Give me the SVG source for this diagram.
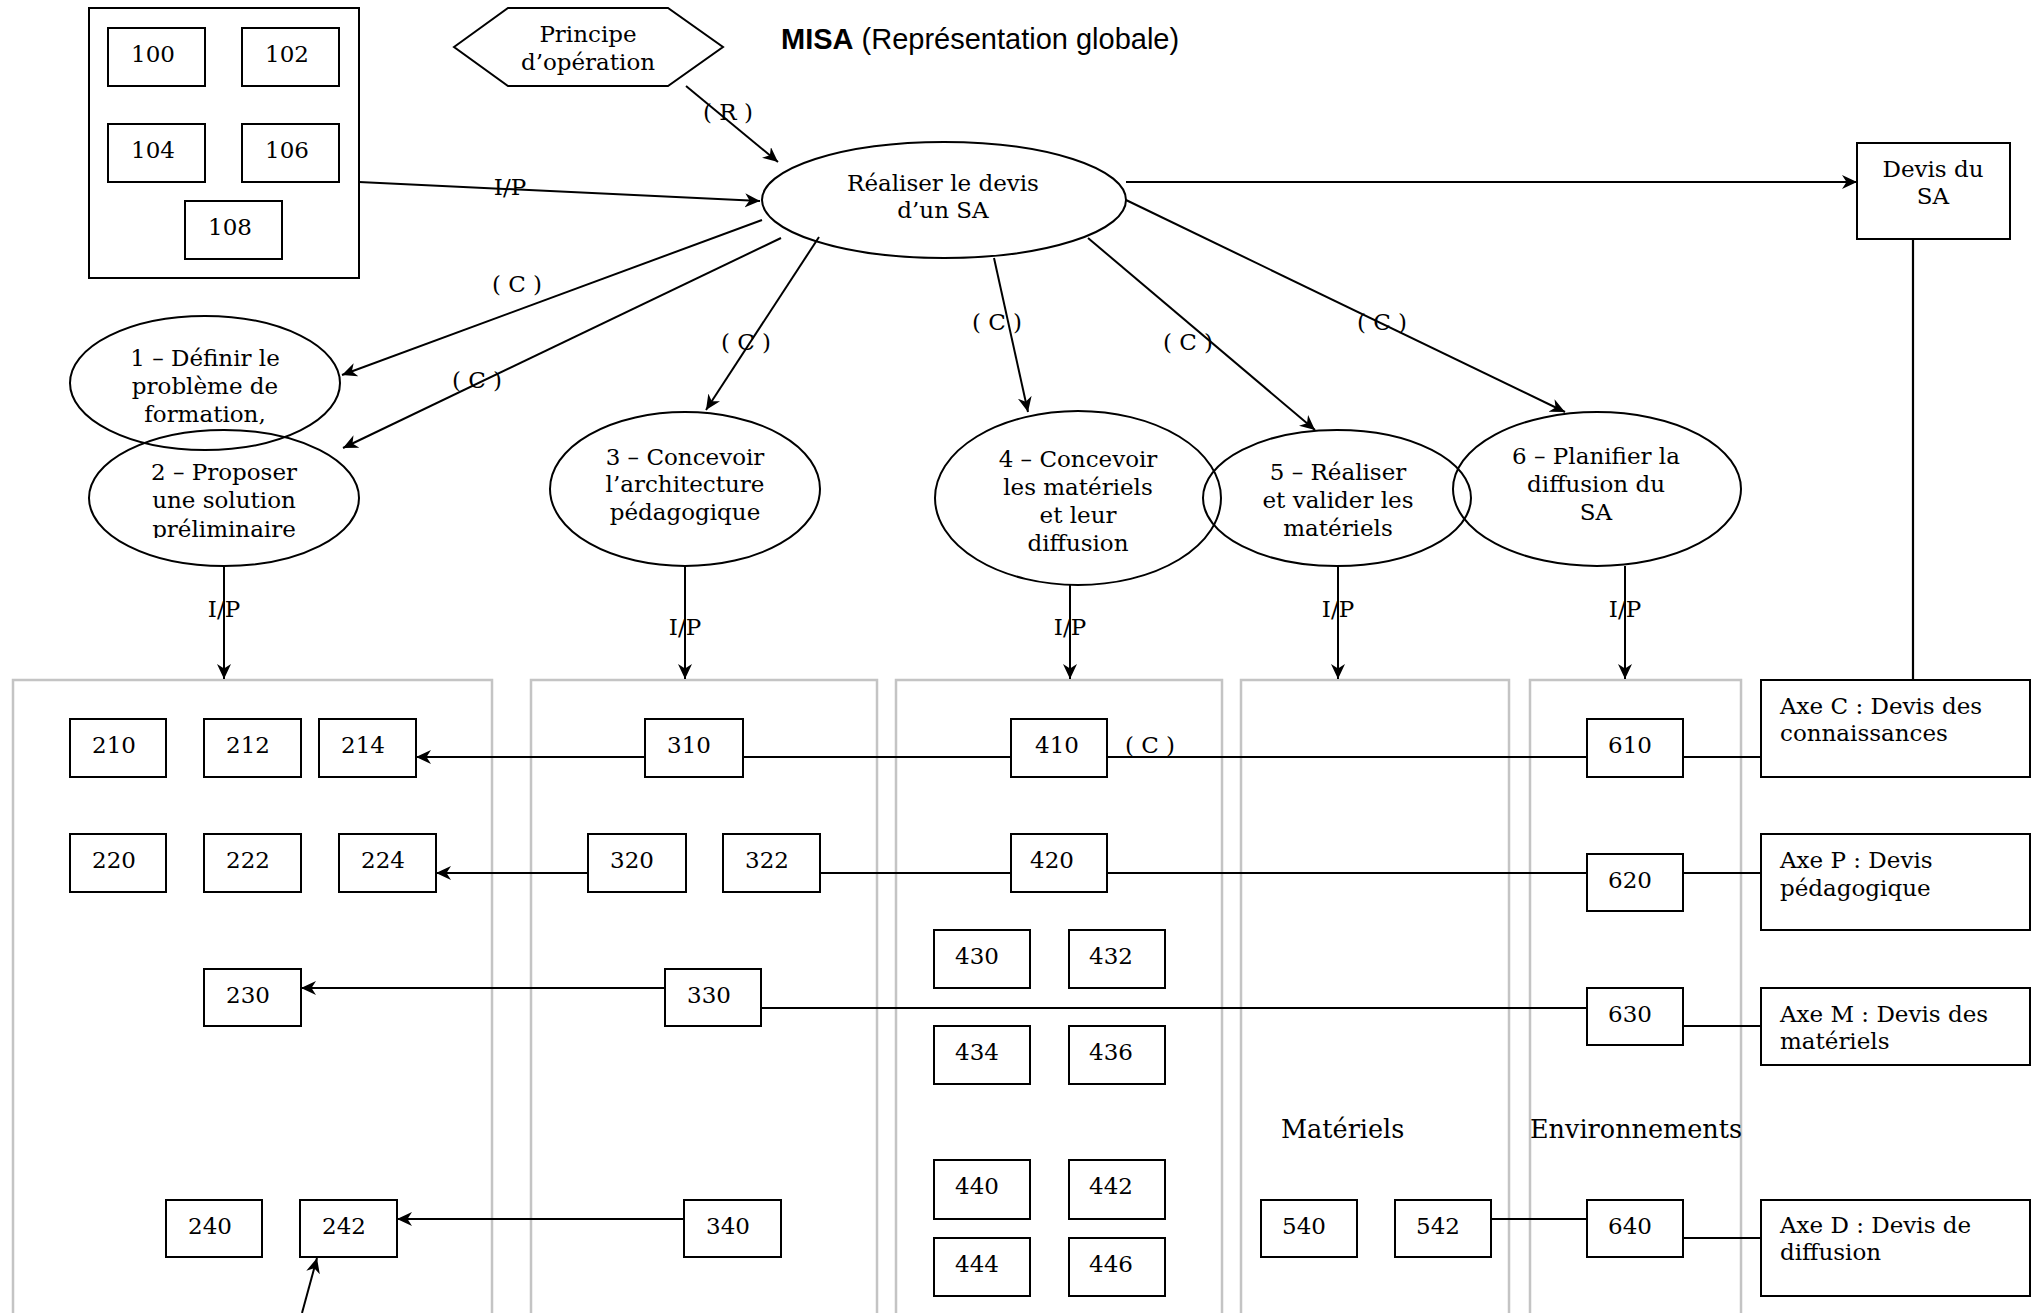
<svg xmlns="http://www.w3.org/2000/svg" width="2037" height="1313" viewBox="0 0 2037 1313">
  <style>
    .t { font-family: "DejaVu Serif", "Liberation Serif", serif; font-size: 23px; fill: #000; }
    .c { text-anchor: middle; }
    .big { font-size: 25.5px; }
    .box { fill: #fff; stroke: #000; stroke-width: 2; }
    .shape { fill: none; stroke: #000; stroke-width: 2; }
    .col { fill: none; stroke: #c4c4c4; stroke-width: 2.5; }
    .ln { fill: none; stroke: #000; stroke-width: 2.2; }
    .arr { fill: none; stroke: #000; stroke-width: 2; marker-end: url(#ah); }
    .title { font-family: "Liberation Sans", Arial, sans-serif; font-size: 29px; }
  </style>
  <defs>
    <marker id="ah" markerUnits="userSpaceOnUse" markerWidth="16" markerHeight="15" refX="15" refY="7" orient="auto">
      <path d="M0,0 L15,7 L0,14 L4.5,7 z" fill="#000"/>
    </marker>
    <clipPath id="clip2">
      <rect x="80" y="440" width="290" height="98"/>
    </clipPath>
  </defs>

  <rect width="2037" height="1313" fill="#fff"/>

  <!-- column frames -->
  <g id="columns">
    <rect class="col" x="13" y="680" width="479" height="650"/>
    <rect class="col" x="531" y="680" width="346" height="650"/>
    <rect class="col" x="896" y="680" width="326" height="650"/>
    <rect class="col" x="1241" y="680" width="268" height="650"/>
    <rect class="col" x="1530" y="680" width="211" height="650"/>
  </g>

  <!-- connectors -->
  <g id="connectors">
    <line class="arr" x1="359" y1="182" x2="760" y2="201"/>
    <line class="arr" x1="686" y1="86" x2="778" y2="162"/>
    <line class="arr" x1="1126" y1="182" x2="1857" y2="182"/>
    <line class="ln" x1="1913" y1="239" x2="1913" y2="680"/>

    <line class="arr" x1="762" y1="220" x2="342" y2="375"/>
    <line class="arr" x1="781" y1="238" x2="343" y2="448"/>
    <line class="arr" x1="819" y1="237" x2="706" y2="410"/>
    <line class="arr" x1="994" y1="258" x2="1028" y2="412"/>
    <line class="arr" x1="1088" y1="238" x2="1315" y2="430"/>
    <line class="arr" x1="1126" y1="200" x2="1565" y2="412"/>

    <line class="arr" x1="224" y1="566" x2="224" y2="679"/>
    <line class="arr" x1="685" y1="566" x2="685" y2="679"/>
    <line class="arr" x1="1070" y1="585" x2="1070" y2="679"/>
    <line class="arr" x1="1338" y1="566" x2="1338" y2="679"/>
    <line class="arr" x1="1625" y1="566" x2="1625" y2="679"/>

    <line class="arr" x1="645" y1="757" x2="416" y2="757"/>
    <line class="ln" x1="743" y1="757" x2="1587" y2="757"/>
    <line class="ln" x1="1683" y1="757" x2="1761" y2="757"/>

    <line class="arr" x1="588" y1="873" x2="436" y2="873"/>
    <line class="ln" x1="820" y1="873" x2="1587" y2="873"/>
    <line class="ln" x1="1683" y1="873" x2="1761" y2="873"/>

    <line class="arr" x1="665" y1="988" x2="301" y2="988"/>
    <line class="ln" x1="761" y1="1008" x2="1587" y2="1008"/>
    <line class="ln" x1="1683" y1="1026" x2="1761" y2="1026"/>

    <line class="arr" x1="684" y1="1219" x2="397" y2="1219"/>
    <line class="arr" x1="302" y1="1313" x2="317" y2="1258"/>
    <line class="ln" x1="1491" y1="1219" x2="1587" y2="1219"/>
    <line class="ln" x1="1683" y1="1238" x2="1761" y2="1238"/>

    <text class="t c" x="728" y="120">( R )</text>
    <text class="t c" x="510" y="195">I/P</text>
    <text class="t c" x="517" y="292">( C )</text>
    <text class="t c" x="477" y="388">( C )</text>
    <text class="t c" x="746" y="350">( C )</text>
    <text class="t c" x="997" y="330">( C )</text>
    <text class="t c" x="1188" y="350">( C )</text>
    <text class="t c" x="1382" y="330">( C )</text>
    <text class="t c" x="224" y="617">I/P</text>
    <text class="t c" x="685" y="635">I/P</text>
    <text class="t c" x="1070" y="635">I/P</text>
    <text class="t c" x="1338" y="617">I/P</text>
    <text class="t c" x="1625" y="617">I/P</text>
    <text class="t c" x="1150" y="753">( C )</text>
  </g>

  <!-- title -->
  <text class="title" x="781" y="49"><tspan font-weight="bold">MISA</tspan> (Représentation globale)</text>

  <!-- input group -->
  <g id="inputs">
    <rect class="box" x="89" y="8" width="270" height="270"/>
    <g id="n100"><rect class="box" x="108" y="28" width="97" height="58"/><text class="t" x="131" y="62">100</text></g>
    <g id="n102"><rect class="box" x="242" y="28" width="97" height="58"/><text class="t" x="265" y="62">102</text></g>
    <g id="n104"><rect class="box" x="108" y="124" width="97" height="58"/><text class="t" x="131" y="158">104</text></g>
    <g id="n106"><rect class="box" x="242" y="124" width="97" height="58"/><text class="t" x="265" y="158">106</text></g>
    <g id="n108"><rect class="box" x="185" y="201" width="97" height="58"/><text class="t" x="208" y="235">108</text></g>
  </g>

  <g id="principe">
    <polygon class="shape" points="454,47 508,8 668,8 723,47 668,86 508,86"/>
    <text class="t c" x="588" y="42">Principe</text>
    <text class="t c" x="588" y="70">d’opération</text>
  </g>

  <g id="devis-sa-process">
    <ellipse class="shape" cx="944" cy="200" rx="182" ry="58"/>
    <text class="t c" x="943" y="191">Réaliser le devis</text>
    <text class="t c" x="943" y="218">d’un SA</text>
  </g>

  <g id="devis-sa">
    <rect class="box" x="1857" y="143" width="153" height="96"/>
    <text class="t c" x="1933" y="177">Devis du</text>
    <text class="t c" x="1933" y="204">SA</text>
  </g>

  <!-- phases -->
  <g id="phase1">
    <ellipse class="shape" cx="205" cy="383" rx="135" ry="67"/>
    <text class="t c" x="205" y="366">1 – Définir le</text>
    <text class="t c" x="205" y="394">problème de</text>
    <text class="t c" x="205" y="422">formation,</text>
  </g>
  <g id="phase2">
    <ellipse class="shape" cx="224" cy="498" rx="135" ry="68"/>
    <g clip-path="url(#clip2)">
      <text class="t c" x="224" y="480">2 – Proposer</text>
      <text class="t c" x="224" y="508">une solution</text>
      <text class="t c" x="224" y="537">préliminaire</text>
    </g>
  </g>
  <g id="phase3">
    <ellipse class="shape" cx="685" cy="489" rx="135" ry="77"/>
    <text class="t c" x="685" y="465">3 – Concevoir</text>
    <text class="t c" x="685" y="492">l’architecture</text>
    <text class="t c" x="685" y="520">pédagogique</text>
  </g>
  <g id="phase4">
    <ellipse class="shape" cx="1078" cy="498" rx="143" ry="87"/>
    <text class="t c" x="1078" y="467">4 – Concevoir</text>
    <text class="t c" x="1078" y="495">les matériels</text>
    <text class="t c" x="1078" y="523">et leur</text>
    <text class="t c" x="1078" y="551">diffusion</text>
  </g>
  <g id="phase5">
    <ellipse class="shape" cx="1337" cy="498" rx="134" ry="68"/>
    <text class="t c" x="1338" y="480">5 – Réaliser</text>
    <text class="t c" x="1338" y="508">et valider les</text>
    <text class="t c" x="1338" y="536">matériels</text>
  </g>
  <g id="phase6">
    <ellipse class="shape" cx="1597" cy="489" rx="144" ry="77"/>
    <text class="t c" x="1596" y="464">6 – Planifier la</text>
    <text class="t c" x="1596" y="492">diffusion du</text>
    <text class="t c" x="1596" y="520">SA</text>
  </g>

  <!-- task boxes -->
  <g id="n210"><rect class="box" x="70" y="719" width="96" height="58"/><text class="t" x="92" y="753">210</text></g>
  <g id="n212"><rect class="box" x="204" y="719" width="97" height="58"/><text class="t" x="226" y="753">212</text></g>
  <g id="n214"><rect class="box" x="319" y="719" width="97" height="58"/><text class="t" x="341" y="753">214</text></g>
  <g id="n220"><rect class="box" x="70" y="834" width="96" height="58"/><text class="t" x="92" y="868">220</text></g>
  <g id="n222"><rect class="box" x="204" y="834" width="97" height="58"/><text class="t" x="226" y="868">222</text></g>
  <g id="n224"><rect class="box" x="339" y="834" width="97" height="58"/><text class="t" x="361" y="868">224</text></g>
  <g id="n230"><rect class="box" x="204" y="969" width="97" height="57"/><text class="t" x="226" y="1003">230</text></g>
  <g id="n240"><rect class="box" x="166" y="1200" width="96" height="57"/><text class="t" x="188" y="1234">240</text></g>
  <g id="n242"><rect class="box" x="300" y="1200" width="97" height="57"/><text class="t" x="322" y="1234">242</text></g>

  <g id="n310"><rect class="box" x="645" y="719" width="98" height="58"/><text class="t" x="667" y="753">310</text></g>
  <g id="n320"><rect class="box" x="588" y="834" width="98" height="58"/><text class="t" x="610" y="868">320</text></g>
  <g id="n322"><rect class="box" x="723" y="834" width="97" height="58"/><text class="t" x="745" y="868">322</text></g>
  <g id="n330"><rect class="box" x="665" y="969" width="96" height="57"/><text class="t" x="687" y="1003">330</text></g>
  <g id="n340"><rect class="box" x="684" y="1200" width="97" height="57"/><text class="t" x="706" y="1234">340</text></g>

  <g id="n410"><rect class="box" x="1011" y="719" width="96" height="58"/><text class="t" x="1035" y="753">410</text></g>
  <g id="n420"><rect class="box" x="1011" y="834" width="96" height="58"/><text class="t" x="1030" y="868">420</text></g>
  <g id="n430"><rect class="box" x="934" y="930" width="96" height="58"/><text class="t" x="955" y="964">430</text></g>
  <g id="n432"><rect class="box" x="1069" y="930" width="96" height="58"/><text class="t" x="1089" y="964">432</text></g>
  <g id="n434"><rect class="box" x="934" y="1026" width="96" height="58"/><text class="t" x="955" y="1060">434</text></g>
  <g id="n436"><rect class="box" x="1069" y="1026" width="96" height="58"/><text class="t" x="1089" y="1060">436</text></g>
  <g id="n440"><rect class="box" x="934" y="1160" width="96" height="59"/><text class="t" x="955" y="1194">440</text></g>
  <g id="n442"><rect class="box" x="1069" y="1160" width="96" height="59"/><text class="t" x="1089" y="1194">442</text></g>
  <g id="n444"><rect class="box" x="934" y="1238" width="96" height="58"/><text class="t" x="955" y="1272">444</text></g>
  <g id="n446"><rect class="box" x="1069" y="1238" width="96" height="58"/><text class="t" x="1089" y="1272">446</text></g>

  <g id="n540"><rect class="box" x="1261" y="1200" width="96" height="57"/><text class="t" x="1282" y="1234">540</text></g>
  <g id="n542"><rect class="box" x="1395" y="1200" width="96" height="57"/><text class="t" x="1416" y="1234">542</text></g>
  <text class="t big" x="1281" y="1138">Matériels</text>
  <text class="t big" x="1530" y="1138">Environnements</text>

  <g id="n610"><rect class="box" x="1587" y="719" width="96" height="58"/><text class="t" x="1608" y="753">610</text></g>
  <g id="n620"><rect class="box" x="1587" y="854" width="96" height="57"/><text class="t" x="1608" y="888">620</text></g>
  <g id="n630"><rect class="box" x="1587" y="988" width="96" height="57"/><text class="t" x="1608" y="1022">630</text></g>
  <g id="n640"><rect class="box" x="1587" y="1200" width="96" height="57"/><text class="t" x="1608" y="1234">640</text></g>

  <!-- axes -->
  <g id="axe-c"><rect class="box" x="1761" y="680" width="269" height="97"/><text class="t" x="1780" y="714">Axe C : Devis des</text><text class="t" x="1780" y="741">connaissances</text></g>
  <g id="axe-p"><rect class="box" x="1761" y="834" width="269" height="96"/><text class="t" x="1780" y="868">Axe P : Devis</text><text class="t" x="1780" y="896">pédagogique</text></g>
  <g id="axe-m"><rect class="box" x="1761" y="988" width="269" height="77"/><text class="t" x="1780" y="1022">Axe M : Devis des</text><text class="t" x="1780" y="1049">matériels</text></g>
  <g id="axe-d"><rect class="box" x="1761" y="1200" width="269" height="96"/><text class="t" x="1780" y="1233">Axe D : Devis de</text><text class="t" x="1780" y="1260">diffusion</text></g>
</svg>
